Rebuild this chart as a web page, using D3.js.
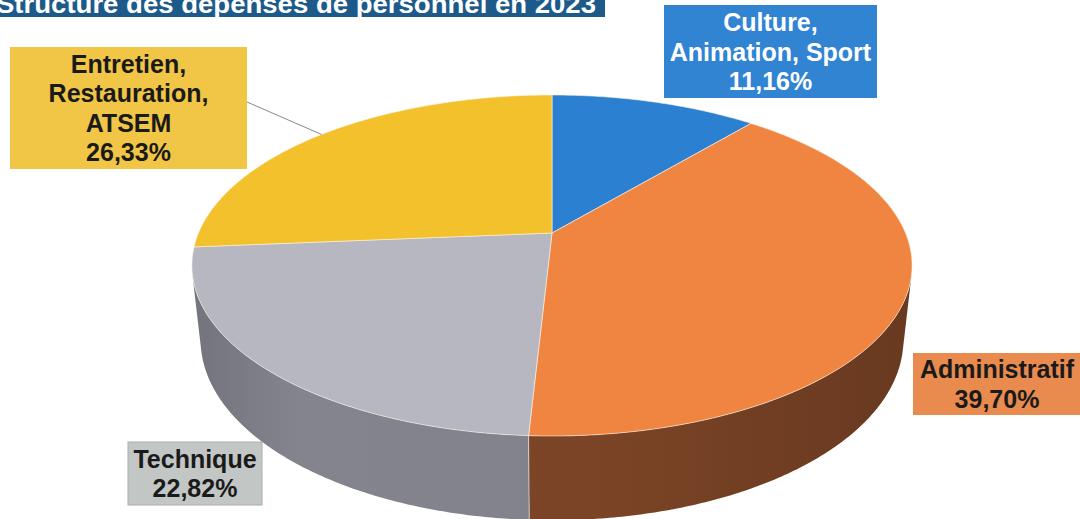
<!DOCTYPE html>
<html>
<head>
<meta charset="utf-8">
<style>
  body { margin: 0; background: #fff; }
  svg { display: block; font-family: "Liberation Sans", Arial, sans-serif; }
</style>
<title>Structure des dépenses de personnel en 2023</title>
</head>
<body>
<svg id="chart"></svg>
<script src="https://cdn.jsdelivr.net/npm/d3@7"></script>
<script>
// data, clockwise from 12 o'clock
var categories = ["Culture, Animation, Sport", "Administratif", "Technique", "Entretien, Restauration, ATSEM"];
var values     = [11.16, 39.70, 22.82, 26.33];
var labelLines = [["Culture,", "Animation, Sport", "11,16%"],
                  ["Administratif", "39,70%"],
                  ["Technique", "22,82%"],
                  ["Entretien,", "Restauration,", "ATSEM", "26,33%"]];
var title = "Structure des dépenses de personnel en 2023";

// styles
var topColors   = ["#2c80d2", "#ef8540", "#b6b7c0", "#f2c12b"];
var sideColors  = ["#1d5a96", "#7c4426", "#81828b", "#a8841c"];
var boxColors   = ["#3184d2", "#e98a4e", "#c2c7c5", "#f1c545"];
var textColors  = ["#ffffff", "#1a1a1a", "#1a1a1a", "#1a1a1a"];
// label boxes: [x, y, w, h]
var boxes = [[664, 5, 213, 93], [913, 353, 170, 62], [128, 442, 134, 63], [10, 47, 237, 122]];

var width = 1080, height = 519;
var svg = d3.select("#chart").attr("width", width).attr("height", height);

// 3D projection of the disc
var cx0 = 552, cy0 = 233, S = 353.5,
    sinP = 0.4648, cosP = 0.8854, persp = 0.2152, depth = 0.24;

function project(theta, rho, h) {
  var x = rho * Math.sin(theta), z = rho * Math.cos(theta);
  var up = h * cosP + z * sinP;
  var d = 1 + (z * cosP - h * sinP) * persp;
  return [cx0 + S * x / d, cy0 - S * up / d];
}

function arcPoints(a0, a1, h) {
  var n = Math.max(2, Math.ceil(Math.abs(a1 - a0) / 0.01));
  return d3.range(n + 1).map(function(i) { return project(a0 + (a1 - a0) * i / n, 1, h); });
}

var pie = d3.pie().sort(null).value(function(d) { return d; });
var slices = pie(values);
var line = d3.line();

// side walls, only the part facing the viewer
var vis0 = Math.acos(-persp / cosP), vis1 = 2 * Math.PI - vis0;

var defs = svg.append("defs");
slices.forEach(function(s, i) {
  var c = d3.color(sideColors[i]);
  var g = defs.append("linearGradient")
    .attr("id", "side" + i)
    .attr("gradientUnits", "userSpaceOnUse")
    .attr("x1", 190).attr("x2", 915).attr("y1", 0).attr("y2", 0);
  g.append("stop").attr("offset", "0%").attr("stop-color", c.darker(0.35));
  g.append("stop").attr("offset", "15%").attr("stop-color", c.brighter(0.05));
  g.append("stop").attr("offset", "55%").attr("stop-color", c);
  g.append("stop").attr("offset", "100%").attr("stop-color", c.darker(0.5));
});

var walls = svg.append("g");
slices.forEach(function(s, i) {
  var a0 = Math.max(s.startAngle, vis0), a1 = Math.min(s.endAngle, vis1);
  if (a1 <= a0) return;
  var pts = arcPoints(a0, a1, 0).concat(arcPoints(a1, a0, -depth));
  walls.append("path")
    .attr("d", line(pts) + "Z")
    .attr("fill", "url(#side" + i + ")");
});
// seams between slices on the wall
slices.forEach(function(s) {
  var a = s.startAngle;
  if (a > vis0 && a < vis1) {
    walls.append("path")
      .attr("d", line([project(a, 1, 0), project(a, 1, -depth)]))
      .attr("stroke", "#e8e8e8").attr("stroke-width", 1).attr("stroke-opacity", 0.7);
  }
});

// top faces
var tops = svg.append("g");
slices.forEach(function(s, i) {
  var pts = [project(0, 0, 0)].concat(arcPoints(s.startAngle, s.endAngle, 0));
  tops.append("path")
    .attr("d", line(pts) + "Z")
    .attr("fill", topColors[i])
    .attr("stroke", "#fbf3e6")
    .attr("stroke-opacity", 0.6)
    .attr("stroke-width", 1)
    .attr("stroke-linejoin", "round");
});

// leader line for the yellow label
var yellow = slices[3];
var tip = project((yellow.startAngle + yellow.endAngle) / 2, 1, 0);
svg.append("line")
  .attr("x1", boxes[3][0] + boxes[3][2]).attr("y1", 102)
  .attr("x2", tip[0]).attr("y2", tip[1])
  .attr("stroke", "#8a8a8a").attr("stroke-width", 1);

// label boxes
var fs = 25, lh = 29.5;
slices.forEach(function(s, i) {
  var b = boxes[i];
  var g = svg.append("g");
  g.append("rect")
    .attr("x", b[0]).attr("y", b[1]).attr("width", b[2]).attr("height", b[3])
    .attr("fill", boxColors[i])
    .attr("stroke", i == 2 ? "#a9aeac" : "none");
  var lines = labelLines[i];
  var cx = b[0] + b[2] / 2;
  if (i == 1) cx = 997;
  var first = b[1] + b[3] / 2 - (lines.length - 1) * lh / 2 + fs * 0.36;
  lines.forEach(function(t, j) {
    g.append("text")
      .attr("x", cx).attr("y", first + j * lh)
      .attr("text-anchor", "middle")
      .attr("font-size", fs)
      .attr("font-weight", "bold")
      .attr("fill", textColors[i])
      .text(t);
  });
});

// title band, cut off at the top of the scan
svg.append("rect")
  .attr("x", 0).attr("y", 0).attr("width", 605).attr("height", 17)
  .attr("fill", "#1d5a8a");
svg.append("text")
  .attr("x", -4).attr("y", 13)
  .attr("font-size", 25)
  .attr("font-weight", "bold")
  .attr("fill", "#ffffff")
  .attr("textLength", 600)
  .attr("lengthAdjust", "spacingAndGlyphs")
  .text(title);
</script>
</body>
</html>
